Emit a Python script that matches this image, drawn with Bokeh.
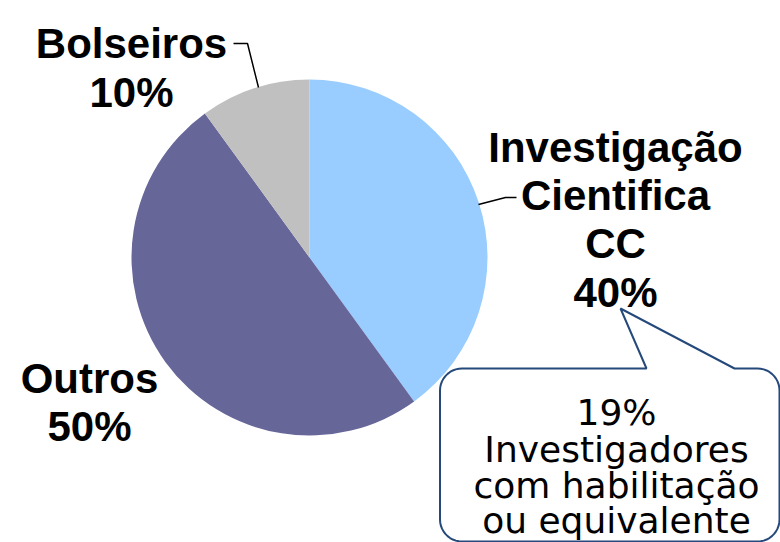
import numpy as np
from bokeh.plotting import figure
from bokeh.models import ColumnDataSource, Range1d
from bokeh.core.properties import value
from bokeh.embed import file_html
from bokeh.resources import INLINE

# ---- data ----
categories = ["Investigação\nCientifica\nCC", "Outros", "Bolseiros"]
shares = [40, 50, 10]
colors = ["#99CCFF", "#666699", "#C0C0C0"]
callout_lines = ["19%", "Investigadores", "com habilitação", "ou equivalente"]

W, H = 780, 542
def Y(ys):
    return H - np.asarray(ys, dtype=float)

p = figure(width=W, height=H, x_range=Range1d(0, W), y_range=Range1d(0, H),
           output_backend="svg", toolbar_location=None, min_border=0,
           x_axis_location=None, y_axis_location=None)
p.grid.visible = False
p.outline_line_color = None
p.background_fill_color = "white"

# ---- pie (clockwise from 12 o'clock) ----
frac = np.array(shares, dtype=float) / sum(shares)
cum = np.concatenate([[0], np.cumsum(frac)])
start_cw = np.pi / 2 - cum[:-1] * 2 * np.pi
end_cw = np.pi / 2 - cum[1:] * 2 * np.pi
src = ColumnDataSource(dict(start=end_cw, end=start_cw, color=colors))
cx, cy, r = 309, float(Y(257)), 178
p.wedge(x=cx, y=cy, radius=r, start_angle="start", end_angle="end",
        fill_color="color", line_color=None, source=src)

# ---- leader lines ----
p.line(x=[233, 247, 258], y=Y([43, 43, 87]), line_color="black", line_width=1.5)
p.line(x=[478, 505, 516], y=Y([204, 197, 197]), line_color="black", line_width=1.5)

# ---- bold labels ----
label_pos = {0: (615, [147, 195, 243, 292]), 1: (89, [378, 426]), 2: (131, [43, 92])}
lx, ly, lt = [], [], []
for i, cat in enumerate(categories):
    lines = cat.split("\n") + [f"{shares[i]}%"]
    x0, bases = label_pos[i]
    for ln, b in zip(lines, bases):
        lx.append(x0); ly.append(float(Y(b))); lt.append(ln)
p.text(x=lx, y=ly, text=lt, text_align="center", text_baseline="alphabetic",
       text_font=value("Liberation Sans"), text_font_style="bold",
       text_font_size="42px", text_color="black")

# ---- callout box ----
x0, x1, y0, y1, rc = 439.5, 779, 368, 541, 22
def arc(xc, yc, a0, a1, n=12):
    t = np.linspace(a0, a1, n)
    return xc + rc * np.cos(t), yc + rc * np.sin(t)
px, py = [], []
px += [x0 + rc, 646, 620, 734, x1 - rc]; py += [y0, y0, 308, y0, y0]
ax, ay = arc(x1 - rc, y0 + rc, -np.pi / 2, 0); px += list(ax); py += list(ay)
ax, ay = arc(x1 - rc, y1 - rc, 0, np.pi / 2); px += list(ax); py += list(ay)
ax, ay = arc(x0 + rc, y1 - rc, np.pi / 2, np.pi); px += list(ax); py += list(ay)
ax, ay = arc(x0 + rc, y0 + rc, np.pi, 1.5 * np.pi); px += list(ax); py += list(ay)
p.patch(x=px, y=Y(py), fill_color="white", line_color="#24497A", line_width=2)

cb = [412, 449, 485, 520]
p.text(x=[616] * len(callout_lines), y=list(Y(cb)), text=callout_lines,
       text_align="center", text_baseline="alphabetic",
       text_font=value("DejaVu Sans"), text_font_size="36px", text_color="black")

open("out.html", "w").write(file_html(p, INLINE))
